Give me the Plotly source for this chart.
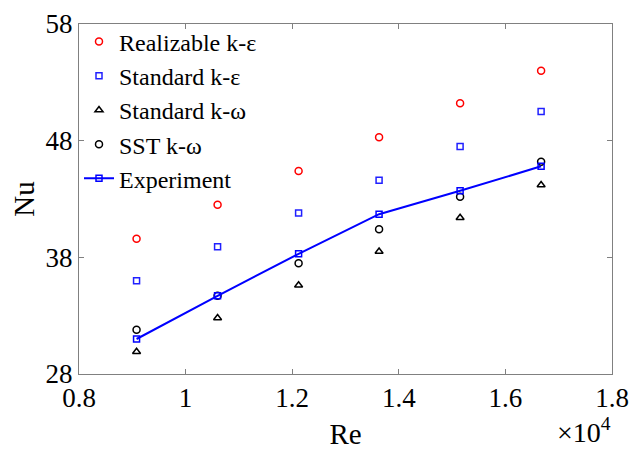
import plotly.graph_objects as go

# Data (Re in actual units)
re_vals = [9080, 10600, 12120, 13630, 15150, 16670]
nu_realizable = [39.6, 42.5, 45.4, 48.3, 51.2, 54.0]
nu_std_ke = [36.0, 38.9, 41.8, 44.6, 47.5, 50.5]
nu_std_kw = [29.9, 32.8, 35.6, 38.5, 41.4, 44.2]
nu_sst = [31.8, 34.7, 37.5, 40.4, 43.2, 46.2]
nu_exp = [31.0, 34.7, 38.3, 41.7, 43.7, 45.8]

x_tickvals = [8000, 10000, 12000, 14000, 16000, 18000]
x_ticktext = ["0.8", "1", "1.2", "1.4", "1.6", "1.8"]
y_tickvals = [28, 38, 48, 58]

FONT = "Liberation Serif, Times New Roman, serif"

fig = go.Figure()
fig.add_trace(go.Scatter(x=re_vals, y=nu_realizable, mode="markers", name="Realizable k-ε",
                         marker=dict(symbol="circle-open", size=7, color="#ff0000", line=dict(width=1.5))))
fig.add_trace(go.Scatter(x=re_vals, y=nu_std_ke, mode="markers", name="Standard k-ε",
                         marker=dict(symbol="square-open", size=6, color="#2020ff", line=dict(width=1.5))))
fig.add_trace(go.Scatter(x=re_vals, y=nu_std_kw, mode="markers", name="Standard k-ω",
                         marker=dict(symbol="triangle-up-open", size=7, color="#000000", line=dict(width=1.5))))
fig.add_trace(go.Scatter(x=re_vals, y=nu_sst, mode="markers", name="SST k-ω",
                         marker=dict(symbol="circle-open", size=7, color="#000000", line=dict(width=1.5))))
fig.add_trace(go.Scatter(x=re_vals, y=nu_exp, mode="lines+markers", name="Experiment",
                         line=dict(color="#0000ff", width=2),
                         marker=dict(symbol="square-open", size=6, color="#0000ff", line=dict(width=1.5))))

axis_common = dict(showline=True, linecolor="#808080", linewidth=1, mirror="ticks",
                   ticks="inside", ticklen=5, tickcolor="#808080", showgrid=False, zeroline=False,
                   automargin=False,
                   tickfont=dict(family=FONT, size=27, color="#000000"))

fig.update_xaxes(range=[8000, 18000], tickvals=x_tickvals, ticktext=x_ticktext,
                 title=dict(text="Re", font=dict(family=FONT, size=29, color="#000000"), standoff=12),
                 **axis_common)
fig.update_yaxes(range=[28, 58], tickvals=y_tickvals,
                 title=dict(text="Nu", font=dict(family=FONT, size=29, color="#000000"), standoff=2),
                 **axis_common)

fig.add_annotation(text="×10<sup>4</sup>", xref="paper", yref="paper", x=1.0, y=-0.214,
                   xanchor="right", yanchor="bottom", showarrow=False, borderpad=0,
                   font=dict(family=FONT, size=28, color="#000000"))

fig.update_layout(
    width=630, height=450,
    margin=dict(l=79, r=18, t=24, b=76),
    paper_bgcolor="white", plot_bgcolor="white",
    showlegend=True,
    legend=dict(x=0.0, y=1.013, xanchor="left", yanchor="top", bgcolor="rgba(0,0,0,0)",
                font=dict(family=FONT, size=24, color="#000000"), tracegroupgap=0,
                itemwidth=30),
)

fig.write_html("out.html")
